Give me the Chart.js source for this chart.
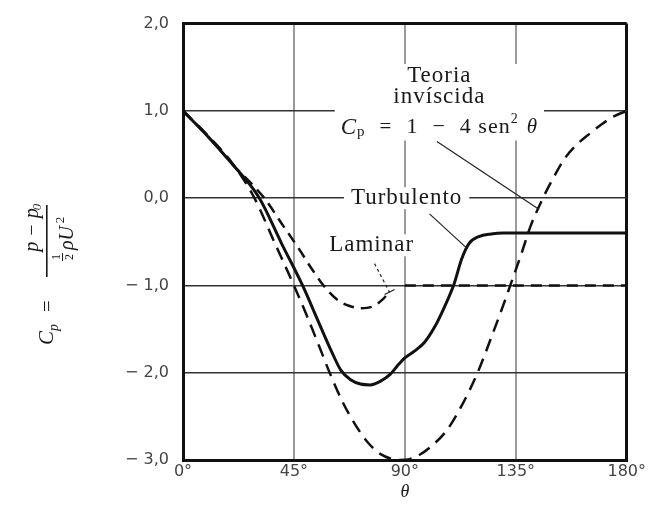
<!DOCTYPE html>
<html>
<head>
<meta charset="utf-8">
<script src="https://cdn.jsdelivr.net/npm/chart.js@4"></script>
<style>
  html, body { margin: 0; padding: 0; background: #fff; }
  #wrap { width: 648px; height: 510px; }
</style>
</head>
<body>
<div id="wrap"><canvas id="chart" width="648" height="510"></canvas></div>
<script>
// theta in degrees, Cp
const thetaInv = [0, 10, 20, 29, 37, 45, 50, 55, 59.5, 65, 70, 75, 80, 85, 88, 92, 96, 100, 107, 113, 119.5, 125, 130, 133, 137, 141, 146, 150, 155, 160, 165, 170, 175, 180];
const cpInv    = [1.0, 0.72, 0.4, 0.0, -0.5, -1.0, -1.33, -1.68, -2.0, -2.35, -2.6, -2.8, -2.93, -2.99, -3.0, -2.99, -2.94, -2.86, -2.66, -2.38, -2.0, -1.6, -1.22, -0.98, -0.66, -0.32, 0.0, 0.22, 0.46, 0.62, 0.74, 0.85, 0.94, 1.0];

const thetaTurb = [0, 10, 20, 31, 40, 48.5, 55, 60, 64, 68, 72, 76, 80, 84, 87, 90, 94, 98, 102, 106, 110, 113, 116, 120, 125, 130, 180];
const cpTurb    = [1.0, 0.71, 0.39, 0.0, -0.52, -1.0, -1.42, -1.74, -1.97, -2.08, -2.13, -2.14, -2.1, -2.02, -1.92, -1.83, -1.75, -1.65, -1.48, -1.25, -0.98, -0.7, -0.52, -0.44, -0.41, -0.4, -0.4];

const thetaLam = [0, 10, 20, 33, 40, 47, 52, 57, 62, 67, 72, 77, 81, 84, 87.5, 90, 135, 180];
const cpLam    = [1.0, 0.71, 0.39, 0.0, -0.29, -0.58, -0.8, -1.0, -1.15, -1.23, -1.26, -1.24, -1.16, -1.06, null, -1.0, -1.0, -1.0];

const xTickValues = [0, 45, 90, 135, 180];
const yMin = -3, yMax = 2;

// annotation texts (positions in data units)
const noteText  = ["Teoria", "invíscida", "Turbulento", "Laminar"];
const noteTheta = [104, 104, 90.7, 76.5];
const noteCp    = [1.40, 1.16, 0.0, -0.54];
const formulaTheta = 104, formulaCp = 0.81;

// leader lines: [theta0, cp0, theta1, cp1]
const leaderInv  = [103, 0.65, 144.5, -0.13];
const leaderTurb = [100, -0.18, 115, -0.57];
const leaderLam  = [77.7, -0.75, 83.8, -1.08];

const toXY = (xs, ys) => xs.map((x, i) => ({ x: x, y: ys[i] }));

const SERIF = '"Liberation Serif", "DejaVu Serif", serif';

function formulaPieces() {
  return [
    { t: "C", f: "italic 23px " + SERIF, dy: 0 },
    { t: "p", f: "15px " + SERIF, dy: 5, gap: 14 },
    { t: "=", f: "21px " + SERIF, dy: 0, gap: 14 },
    { t: "1", f: "22px " + SERIF, dy: 0, gap: 14 },
    { t: "−", f: "22px " + SERIF, dy: 0, gap: 14 },
    { t: "4 sen", f: "22px " + SERIF, dy: 0, gap: 0 },
    { t: "2", f: "14px " + SERIF, dy: -8, gap: 8 },
    { t: "θ", f: "italic 21px " + SERIF, dy: 0, gap: 0 }
  ];
}

function measureFormula(ctx) {
  const pcs = formulaPieces();
  let w = 0;
  pcs.forEach(p => {
    ctx.font = p.f;
    p.w = ctx.measureText(p.t).width;
    w += p.w + (p.gap || 0);
  });
  return { pcs, w };
}

const notesPlugin = {
  id: "notes",
  beforeDatasetsDraw(chart) {
    const { ctx, scales: { x, y } } = chart;
    ctx.save();
    ctx.fillStyle = "#fff";
    ctx.letterSpacing = "1px";
    // Teoria block incl. formula
    ctx.font = "23px " + SERIF;
    const fm = measureFormula(ctx);
    const cx = x.getPixelForValue(formulaTheta);
    const top = y.getPixelForValue(noteCp[0]) - 12;
    const bot = y.getPixelForValue(formulaCp) + 13;
    ctx.fillRect(cx - fm.w / 2 - 6, top, fm.w + 12, bot - top);
    // Turbulento / Laminar
    [2, 3].forEach(i => {
      ctx.font = "23px " + SERIF;
      const w = ctx.measureText(noteText[i]).width;
      const px = x.getPixelForValue(noteTheta[i]);
      const py = y.getPixelForValue(noteCp[i]);
      ctx.fillRect(px - w / 2 - 7, py - 11, w + 14, 22);
    });
    ctx.restore();
  },
  afterDatasetsDraw(chart) {
    const { ctx, scales: { x, y } } = chart;
    ctx.save();
    ctx.fillStyle = "#1a1a1a";
    ctx.textBaseline = "middle";
    ctx.letterSpacing = "1px";
    noteText.forEach((t, i) => {
      ctx.font = "23px " + SERIF;
      ctx.textAlign = "center";
      ctx.fillText(t, x.getPixelForValue(noteTheta[i]), y.getPixelForValue(noteCp[i]));
    });
    // formula
    const fm = measureFormula(ctx);
    let px = x.getPixelForValue(formulaTheta) - fm.w / 2;
    const py = y.getPixelForValue(formulaCp);
    ctx.textAlign = "left";
    fm.pcs.forEach(p => {
      ctx.font = p.f;
      ctx.fillText(p.t, px, py + p.dy);
      px += p.w + (p.gap || 0);
    });
    ctx.letterSpacing = "0px";

    // leader lines
    ctx.strokeStyle = "#222";
    ctx.lineWidth = 1.2;
    const seg = (L, dash) => {
      ctx.setLineDash(dash);
      ctx.beginPath();
      ctx.moveTo(x.getPixelForValue(L[0]), y.getPixelForValue(L[1]));
      ctx.lineTo(x.getPixelForValue(L[2]), y.getPixelForValue(L[3]));
      ctx.stroke();
    };
    seg(leaderInv, []);
    seg(leaderTurb, []);
    seg(leaderLam, [3, 3]);
    ctx.setLineDash([]);
    // small hook at the laminar leader tip
    const hx = x.getPixelForValue(leaderLam[2]), hy = y.getPixelForValue(leaderLam[3]);
    ctx.beginPath();
    ctx.moveTo(hx - 5, hy + 2);
    ctx.lineTo(hx + 5, hy - 3);
    ctx.stroke();

    // theta axis title
    ctx.font = "italic 18px " + SERIF;
    ctx.textAlign = "center";
    ctx.fillText("θ", x.getPixelForValue(90), 492);

    // rotated y title: Cp = (p - p0) / (1/2 rho U^2)
    ctx.translate(50, 250);
    ctx.rotate(-Math.PI / 2);
    ctx.textBaseline = "alphabetic";
    ctx.textAlign = "left";
    ctx.font = "italic 21px " + SERIF;
    ctx.fillText("C", -95, 3);
    ctx.font = "italic 14px " + SERIF;
    ctx.fillText("p", -81, 8);
    ctx.font = "21px " + SERIF;
    ctx.fillText("=", -62, 4);
    ctx.fillRect(-27, -4, 72, 1.6);
    ctx.textAlign = "center";
    ctx.font = "italic 20px " + SERIF;
    ctx.fillText("p − p", 20, -12);
    ctx.font = "italic 13px " + SERIF;
    ctx.fillText("0", 43, -9);
    ctx.font = "12px " + SERIF;
    ctx.fillText("1", -7, 10);
    ctx.fillRect(-11, 12, 8, 1);
    ctx.fillText("2", -7, 23);
    ctx.font = "italic 20px " + SERIF;
    ctx.fillText("ρU", 12, 23);
    ctx.font = "13px " + SERIF;
    ctx.fillText("2", 30, 14);
    ctx.restore();
  }
};

new Chart(document.getElementById("chart"), {
  type: "line",
  data: {
    datasets: [
      { label: "Turbulento", data: toXY(thetaTurb, cpTurb), borderColor: "#111", borderWidth: 3, borderDash: [], pointRadius: 0, cubicInterpolationMode: "monotone" },
      { label: "Laminar", data: toXY(thetaLam, cpLam), borderColor: "#111", borderWidth: 2.5, borderDash: [11, 7], pointRadius: 0, spanGaps: false, cubicInterpolationMode: "monotone" },
      { label: "Teoria invíscida", data: toXY(thetaInv, cpInv), borderColor: "#111", borderWidth: 2.5, borderDash: [13, 8], pointRadius: 0, cubicInterpolationMode: "monotone" }
    ]
  },
  options: {
    responsive: false,
    animation: false,
    layout: { padding: { top: 22, right: 20, left: 0, bottom: 0 } },
    plugins: { legend: { display: false }, tooltip: { enabled: false } },
    scales: {
      x: {
        type: "linear",
        min: 0,
        max: 180,
        afterBuildTicks: s => { s.ticks = xTickValues.map(v => ({ value: v })); },
        afterFit: s => { s.height = 50; },
        ticks: {
          color: "#444",
          padding: 2,
          font: { family: '"DejaVu Sans", sans-serif', size: 16 },
          callback: v => v + "°"
        },
        grid: {
          drawTicks: false,
          color: c => c.tick && c.tick.value === 180 ? "#111" : "#9a9a9a",
          lineWidth: c => c.tick && c.tick.value === 180 ? 3 : 2
        },
        border: { color: "#111", width: 3 }
      },
      y: {
        type: "linear",
        min: yMin,
        max: yMax,
        afterFit: s => { s.width = 183; },
        ticks: {
          stepSize: 1,
          color: "#444",
          padding: 14,
          font: { family: '"DejaVu Sans", sans-serif', size: 16 },
          callback: v => (v < 0 ? "− " : "") + Math.abs(v).toFixed(1).replace(".", ",")
        },
        grid: {
          drawTicks: false,
          color: c => c.tick && c.tick.value === yMax ? "#111" : "#333",
          lineWidth: c => c.tick && c.tick.value === yMax ? 3 : 1.5
        },
        border: { color: "#111", width: 3 }
      }
    }
  },
  plugins: [notesPlugin]
});
</script>
</body>
</html>
